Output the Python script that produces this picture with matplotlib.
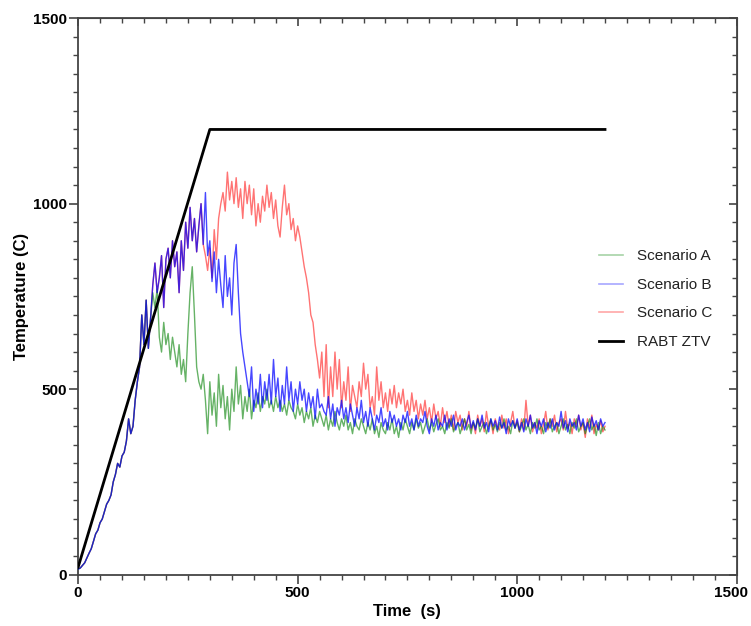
import numpy as np
import matplotlib
matplotlib.use("Agg")
import matplotlib.pyplot as plt
from matplotlib.ticker import MultipleLocator
from matplotlib.transforms import ScaledTranslation

plt.rcParams['font.family'] = ['Liberation Sans', 'DejaVu Sans']

# ---------------- data (sampled every 5 s) ----------------
scenario_b = [15,18,25,32,45,58,70,90,110,120,140,150,170,190,200,215,250,270,300,290,
              320,330,360,420,380,400,470,520,560,700,620,740,610,690,780,840,760,800,860,720,
              850,880,800,900,830,870,760,900,820,950,880,990,900,960,870,940,1000,890,1030,860,
              900,790,870,760,850,780,720,860,750,800,700,840,890,760,650,600,560,520,480,560,
              440,500,460,540,450,520,470,540,460,580,480,530,440,510,460,560,470,520,440,500,
              460,520,470,500,440,490,450,480,420,500,450,460,440,430,480,420,460,400,450,430,
              470,420,450,410,460,430,400,450,420,470,410,440,400,450,420,390,430,410,450,400,
              420,390,440,410,430,400,420,390,430,410,440,400,420,390,430,400,420,410,440,400,
              380,420,400,430,390,410,400,430,390,420,400,430,390,410,400,420,390,410,430,395,
              415,390,420,400,430,395,410,385,420,400,415,390,425,395,410,380,420,400,415,395,
              420,390,410,385,420,400,430,395,410,380,415,400,420,385,410,395,420,390,410,400,
              440,395,415,385,420,400,410,390,430,400,420,390,410,385,425,400,415,390,420,400,
              410]

scenario_a = [15,18,25,32,45,58,70,90,110,120,140,150,170,190,200,215,250,270,300,290,
              320,330,360,420,380,400,470,520,560,700,620,740,610,690,760,720,770,640,600,680,
              620,650,580,640,600,560,620,540,580,520,650,760,830,700,560,520,500,540,470,380,
              520,430,490,400,540,450,510,420,480,390,500,440,560,460,510,420,480,440,500,420,
              470,450,490,440,480,460,500,450,470,440,480,450,470,440,460,430,470,450,440,420,
              460,430,450,410,440,420,450,400,430,410,440,420,400,430,390,420,400,440,410,390,
              420,400,430,390,410,380,420,400,390,420,400,380,410,390,420,380,400,370,410,390,
              380,410,390,420,380,400,370,410,390,420,400,380,410,390,420,395,410,380,400,420,
              390,410,385,405,420,390,400,380,410,395,420,385,400,410,380,400,420,390,405,380,
              410,395,420,385,400,410,380,400,420,390,405,385,410,395,420,390,400,380,415,395,
              410,385,400,420,390,405,380,410,395,420,390,400,380,410,395,420,385,400,410,380,
              400,420,390,405,380,410,395,420,385,400,410,380,400,420,390,405,375,410,380,400,
              390]

scenario_c = [15,18,25,32,45,58,70,90,110,120,140,150,170,190,200,215,250,270,300,290,
              320,330,360,420,380,400,470,520,560,700,620,740,610,690,780,840,760,800,860,720,
              850,880,800,900,830,870,760,900,820,950,880,990,900,960,870,940,1000,890,860,820,
              880,800,930,850,960,1000,1030,980,1085,1010,1060,1000,1070,990,1040,960,1060,1000,1050,970,
              1040,940,1000,950,1020,980,1050,990,1030,960,1010,940,910,990,1050,970,1000,930,960,900,
              940,910,870,830,800,760,700,680,620,580,530,600,480,620,450,560,480,600,500,580,
              450,520,470,560,440,510,480,450,520,480,570,500,540,450,480,430,560,470,520,450,
              490,440,500,460,510,450,490,460,500,440,470,430,490,440,470,420,460,430,470,420,
              450,410,460,420,440,400,450,410,440,400,430,390,440,410,430,390,420,400,440,390,
              410,380,430,400,420,385,440,400,415,380,420,400,390,430,395,420,380,410,440,395,
              415,385,420,390,470,400,430,385,410,395,420,380,405,440,390,420,400,430,385,410,
              420,390,440,395,410,380,420,400,430,390,410,370,420,395,430,380,405,390,415,385,
              400]

rabt_time = [0, 300, 1200]
rabt_temp = [20, 1200, 1200]

t_a = np.arange(len(scenario_a)) * 5
t_b = np.arange(len(scenario_b)) * 5
t_c = np.arange(len(scenario_c)) * 5

# ---------------- figure ----------------
fig = plt.figure(figsize=(7.51, 6.26), dpi=100)
ax = fig.add_axes([0.104, 0.082, 0.877, 0.889])

lc, = ax.plot(t_c, scenario_c, color='red', lw=1.0, alpha=0.55, zorder=2)
la, = ax.plot(t_a, scenario_a, color='green', lw=1.0, alpha=0.6, zorder=3)
lb, = ax.plot(t_b, scenario_b, color='blue', lw=1.0, alpha=0.72, zorder=4)
lr, = ax.plot(rabt_time, rabt_temp, color='black', lw=2.0, zorder=5)

ax.set_xlim(0, 1500)
ax.set_ylim(0, 1500)
ax.xaxis.set_major_locator(MultipleLocator(500))
ax.xaxis.set_minor_locator(MultipleLocator(50))
ax.yaxis.set_major_locator(MultipleLocator(500))
ax.yaxis.set_minor_locator(MultipleLocator(50))

spine_col = '#444444'
for s in ax.spines.values():
    s.set_color(spine_col)
    s.set_linewidth(1.3)

ax.tick_params(which='major', direction='out', length=6.5, width=1.2, color=spine_col,
               labelsize=11, pad=1.5)
ax.tick_params(which='minor', direction='out', length=3.5, width=1.0, color=spine_col)

# inward ticks on top and right
top = ax.secondary_xaxis('top')
top.xaxis.set_major_locator(MultipleLocator(500))
top.xaxis.set_minor_locator(MultipleLocator(50))
top.tick_params(which='major', direction='in', length=6, width=1.2, color=spine_col, labeltop=False)
top.tick_params(which='minor', direction='in', length=3.5, width=1.0, color=spine_col)
top.spines['top'].set_color(spine_col)
right = ax.secondary_yaxis('right')
right.yaxis.set_major_locator(MultipleLocator(500))
right.yaxis.set_minor_locator(MultipleLocator(50))
right.tick_params(which='major', direction='in', length=6, width=1.2, color=spine_col, labelright=False)
right.tick_params(which='minor', direction='in', length=3.5, width=1.0, color=spine_col)
right.spines['right'].set_color(spine_col)

ax.set_xlabel('Time  (s)', fontsize=12, fontweight='bold', labelpad=3)
ax.set_ylabel('Temperature (C)', fontsize=12, fontweight='bold', labelpad=3)

leg = ax.legend([la, lb, lc, lr], ['Scenario A', 'Scenario B', 'Scenario C', 'RABT ZTV'],
                loc='center left', bbox_to_anchor=(0.77, 0.495), frameon=False,
                fontsize=11, handlelength=1.6, handletextpad=0.9, labelspacing=0.95)
for h in leg.get_lines()[:3]:
    h.set_alpha(0.35)
    h.set_linewidth(1.2)
for txt in leg.get_texts():
    txt.set_color('#222222')

fig.canvas.draw()
for lab in ax.get_xticklabels() + ax.get_yticklabels():
    lab.set_fontweight('bold')
xl = ax.get_xticklabels()
last = [l for l in xl if l.get_text() == '1500']
for l in last:
    l.set_transform(l.get_transform() + ScaledTranslation(-4 / 72, 0, fig.dpi_scale_trans))

fig.savefig('out.png', dpi=100)
